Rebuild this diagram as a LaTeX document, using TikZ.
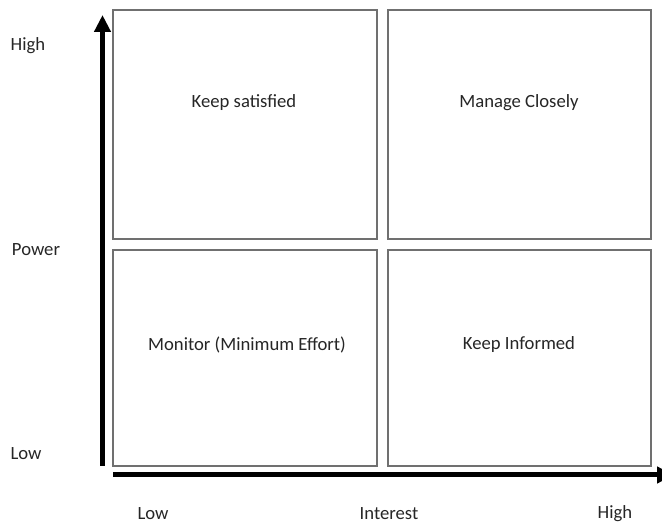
\documentclass[tikz,border=0pt]{standalone}
\usepackage{fontspec}
\setmainfont{Carlito}
\usetikzlibrary{arrows.meta}
\definecolor{frame}{HTML}{707070}
\definecolor{ink}{HTML}{262626}
\begin{document}
\begin{tikzpicture}[x=0.75pt,y=-0.75pt,
  quad/.style={draw=frame,line width=1.1pt,fill=white},
  qlabel/.style={font=\fontsize{14pt}{16pt}\selectfont,text=ink,inner sep=0pt},
  axis/.style={line width=3.75pt,black,-{Triangle[width=12pt,length=12.75pt]}},
  tick/.style={font=\fontsize{14pt}{16pt}\selectfont,text=ink,inner sep=0pt}]
\useasboundingbox (0,0) rectangle (662,524);
% the four quadrants
\draw[quad] (113,10) rectangle (377,239);
\draw[quad] (388,10) rectangle (651,239);
\draw[quad] (113,250) rectangle (377,466);
\draw[quad] (388,250) rectangle (651,466);
\node[qlabel] (ks) at (244,103) {Keep satisfied};
\node[qlabel] (mc) at (519,103) {Manage Closely};
\node[qlabel] (mo) at (247,345) {Monitor (Minimum Effort)};
\node[qlabel] (ki) at (519,345) {Keep Informed};
% axes
\coordinate (yb) at (102.5,466);
\coordinate (yt) at (102.5,15);
\coordinate (xb) at (113,475);
\coordinate (xt) at (674,475);
\draw[axis] (yb) -- (yt);
\draw[axis] (xb) -- (xt);
% axis labels
\node[tick] (ph) at (28,46) {High};
\node[tick] (pw) at (36,250) {Power};
\node[tick] (pl) at (26,454) {Low};
\node[tick] (il) at (153,514) {Low};
\node[tick] (ii) at (389,514) {Interest};
\node[tick] (ih) at (615,514) {High};
\end{tikzpicture}
\end{document}
